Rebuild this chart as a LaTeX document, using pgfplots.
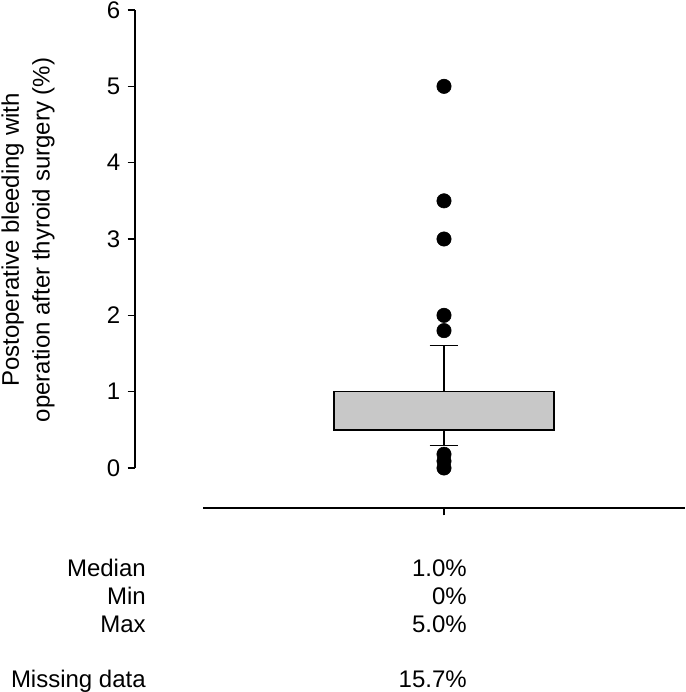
\documentclass[border=0pt]{standalone}
\usepackage{pgfplots}
\pgfplotsset{compat=1.18}
\usepgfplotslibrary{statistics}
\usepackage{fontspec}
\setmainfont{Liberation Sans}
\definecolor{boxgray}{RGB}{200,200,200}
\begin{document}
\begin{tikzpicture}[font=\fontsize{18}{21}\selectfont]
\path[use as bounding box] (0,0) rectangle (513.75pt,-519pt);
\begin{axis}[
  at={(152.25pt,-351pt)}, anchor=south west,
  scale only axis, width=361.5pt, height=343.5pt,
  xmin=0, xmax=2, ymin=0, ymax=6,
  axis x line=bottom, axis y line=left,
  axis line style={-, line width=1.2pt, black},
  axis y line shift=51pt, axis x line shift=30pt,
  xtick={1}, xticklabels={},
  ytick={0,1,2,3,4,5,6},
  tick align=outside, major tick length=5.5pt,
  tick style={black, line width=1.2pt},
  yticklabel style={font=\fontsize{18}{21}\selectfont, xshift=-2pt},
  /pgf/number format/assume math mode=true,
  clip=false,
]
\addplot[draw=black, line width=1.1pt, fill=boxgray,
  boxplot/draw direction=y,
  boxplot prepared={draw position=1, median=1.0, upper quartile=1.0,
    lower quartile=0.5, upper whisker=1.6, lower whisker=0.3,
    box extend=0.913, whisker extend=0.12,
    every whisker/.style={line width=0.8pt},
    every median/.style={line width=1.1pt}}]
  coordinates {};
\addplot[only marks, mark=*, mark size=5.4pt, black, mark options={fill=black}]
  coordinates {(1,5.0) (1,3.5) (1,3.0) (1,2.0) (1,1.8) (1,0.18) (1,0.09) (1,0.0)};
\end{axis}
\node[rotate=90, align=center, inner sep=0, font=\fontsize{18}{23}\selectfont] at (21pt,-180pt)
  {Postoperative bleeding with\\operation after thyroid surgery (\%)};
\node[anchor=base east, inner sep=0] at (109.5pt,-432pt) {Median};
\node[anchor=base east, inner sep=0] at (109.5pt,-453pt) {Min};
\node[anchor=base east, inner sep=0] at (109.5pt,-474pt) {Max};
\node[anchor=base east, inner sep=0] at (109.5pt,-515.25pt) {Missing data};
\node[anchor=base east, inner sep=0] at (350.25pt,-432pt) {1.0\%};
\node[anchor=base east, inner sep=0] at (350.25pt,-453pt) {0\%};
\node[anchor=base east, inner sep=0] at (350.25pt,-474pt) {5.0\%};
\node[anchor=base east, inner sep=0] at (350.25pt,-515.25pt) {15.7\%};
\end{tikzpicture}
\end{document}
